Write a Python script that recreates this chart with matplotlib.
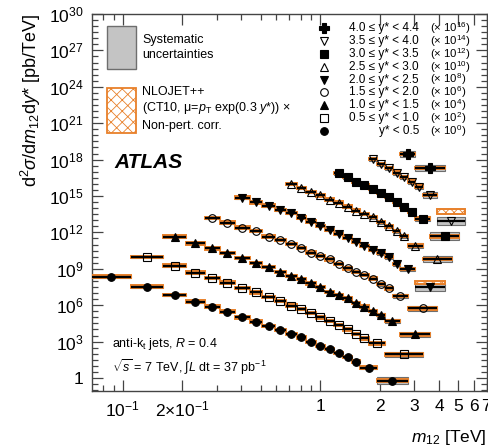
import numpy as np
import matplotlib
matplotlib.use("Agg")
import matplotlib.pyplot as plt
import matplotlib.transforms as mtransforms
from matplotlib.patches import Rectangle
from matplotlib.ticker import FixedLocator, FixedFormatter, NullFormatter

plt.rcParams['font.family'] = ['Liberation Sans', 'DejaVu Sans']
plt.rcParams['mathtext.fontset'] = 'custom'
plt.rcParams['mathtext.rm'] = 'Liberation Sans'
plt.rcParams['mathtext.it'] = 'Liberation Sans:italic'
plt.rcParams['mathtext.bf'] = 'Liberation Sans:bold'
plt.rcParams['hatch.linewidth'] = 0.6

# y* bins, lowest first; plotted values are already multiplied by the scale factor
ystar_labels = ["y* < 0.5", "0.5 ≤ y* < 1.0", "1.0 ≤ y* < 1.5", "1.5 ≤ y* < 2.0",
                "2.0 ≤ y* < 2.5", "2.5 ≤ y* < 3.0", "3.0 ≤ y* < 3.5", "3.5 ≤ y* < 4.0",
                "4.0 ≤ y* < 4.4"]
scale_exp = [0, 2, 4, 6, 8, 10, 12, 14, 16]

# m12 bin edges [TeV] for each y* bin
edges = [
    [0.07, 0.11, 0.16, 0.21, 0.26, 0.31, 0.37, 0.44, 0.51, 0.59, 0.67, 0.76, 0.85, 0.95,
     1.06, 1.18, 1.31, 1.45, 1.60, 1.94, 2.78],
    [0.11, 0.16, 0.21, 0.26, 0.31, 0.37, 0.44, 0.51, 0.59, 0.67, 0.76, 0.85, 0.95, 1.06,
     1.18, 1.31, 1.45, 1.60, 1.76, 2.12, 3.31],
    [0.16, 0.21, 0.26, 0.31, 0.37, 0.44, 0.51, 0.59, 0.67, 0.76, 0.85, 0.95, 1.06, 1.18,
     1.31, 1.45, 1.60, 1.76, 1.94, 2.12, 2.55, 3.61],
    [0.26, 0.31, 0.37, 0.44, 0.51, 0.59, 0.67, 0.76, 0.85, 0.95, 1.06, 1.18, 1.31, 1.45,
     1.60, 1.76, 1.94, 2.12, 2.33, 2.78, 3.93],
    [0.37, 0.44, 0.51, 0.59, 0.67, 0.76, 0.85, 0.95, 1.06, 1.18, 1.31, 1.45, 1.60, 1.76,
     1.94, 2.12, 2.33, 2.55, 3.04, 4.27],
    [0.67, 0.76, 0.85, 0.95, 1.06, 1.18, 1.31, 1.45, 1.60, 1.76, 1.94, 2.12, 2.33, 2.55,
     2.78, 3.31, 4.64],
    [1.18, 1.31, 1.45, 1.60, 1.76, 1.94, 2.12, 2.33, 2.55, 2.78, 3.04, 3.61, 5.04],
    [1.76, 1.94, 2.12, 2.33, 2.55, 2.78, 3.04, 3.31, 3.93, 5.44],
    [2.55, 3.04, 4.27],
]

# log10 of (d2sigma/dm12dy* x scale) [pb/TeV]
log_xs = [
    [8.35, 7.53, 6.84, 6.29, 5.88, 5.47, 5.00, 4.64, 4.31, 3.96, 3.63, 3.35, 2.99, 2.64,
     2.37, 2.04, 1.71, 1.35, 0.85, -0.22],
    [9.95, 9.26, 8.68, 8.22, 7.86, 7.43, 7.05, 6.70, 6.33, 5.96, 5.69, 5.38, 5.00, 4.70,
     4.37, 4.01, 3.63, 3.27, 2.86, 1.95],
    [11.65, 11.10, 10.69, 10.28, 9.87, 9.50, 9.13, 8.76, 8.41, 8.14, 7.80, 7.48, 7.11,
     6.84, 6.57, 6.16, 5.88, 5.52, 5.19, 4.72, 3.60],
    [13.17, 12.80, 12.39, 12.11, 11.65, 11.38, 11.05, 10.72, 10.33, 10.06, 9.78, 9.40,
     9.04, 8.76, 8.49, 8.20, 7.75, 7.39, 6.76, 5.74],
    [14.86, 14.48, 14.20, 13.85, 13.58, 13.22, 12.89, 12.55, 12.20, 11.87, 11.57, 11.24,
     10.88, 10.55, 10.28, 9.95, 9.40, 9.00, 7.48],
    [16.00, 15.64, 15.33, 15.05, 14.70, 14.45, 14.12, 13.79, 13.52, 13.25, 12.85, 12.50,
     12.13, 11.72, 10.92, 9.80],
    [16.88, 16.55, 16.18, 15.91, 15.56, 15.23, 14.90, 14.50, 14.12, 13.71, 13.13, 11.68],
    [18.07, 17.64, 17.29, 16.93, 16.55, 16.18, 15.77, 15.09, 12.97],
    [18.45, 17.29],
]

# systematic uncertainty, half height in decades
sys_dec = [
    [0.10, 0.08, 0.07, 0.07, 0.06, 0.06, 0.06, 0.06, 0.06, 0.06, 0.07, 0.07, 0.07, 0.08,
     0.08, 0.09, 0.10, 0.11, 0.14, 0.27],
    [0.10, 0.08, 0.07, 0.07, 0.06, 0.06, 0.06, 0.06, 0.06, 0.06, 0.07, 0.07, 0.07, 0.08,
     0.08, 0.09, 0.10, 0.11, 0.14, 0.20],
    [0.09, 0.08, 0.07, 0.07, 0.06, 0.06, 0.06, 0.06, 0.06, 0.07, 0.07, 0.07, 0.08, 0.08,
     0.09, 0.10, 0.11, 0.12, 0.13, 0.15, 0.20],
    [0.09, 0.08, 0.07, 0.07, 0.06, 0.06, 0.06, 0.07, 0.07, 0.07, 0.08, 0.08, 0.09, 0.10,
     0.11, 0.12, 0.13, 0.15, 0.17, 0.19],
    [0.09, 0.08, 0.07, 0.07, 0.07, 0.07, 0.07, 0.08, 0.08, 0.08, 0.09, 0.10, 0.11, 0.12,
     0.13, 0.15, 0.16, 0.18, 0.27],
    [0.09, 0.08, 0.08, 0.08, 0.08, 0.09, 0.09, 0.10, 0.11, 0.12, 0.13, 0.14, 0.15, 0.17,
     0.20, 0.27],
    [0.12, 0.11, 0.11, 0.12, 0.12, 0.13, 0.14, 0.15, 0.17, 0.19, 0.22, 0.33],
    [0.15, 0.15, 0.16, 0.17, 0.18, 0.20, 0.22, 0.25, 0.34],
    [0.22, 0.26],
]

# theory (NLOJET++ x non-pert. corr.): same as data except these (series, bin, log offset, half height)
theory_half = 0.10
theory_diff = [(4, 18, 0.38, 0.11), (7, 8, 0.74, 0.20)]

markers = ['o', 's', '^', 'o', 'v', '^', 's', 'v', 'P']
filled = [True, False, True, False, True, False, True, False, True]

ORANGE = '#e8802a'
GRAY_FACE = '#c4c4c4'
GRAY_EDGE = '#6e6e6e'

fig = plt.figure(figsize=(4.89, 4.46), dpi=100)
ax = fig.add_axes([92 / 489, 1 - 391 / 446, 395 / 489, 377 / 446])
ax.set_xscale('log')
ax.set_yscale('log')
ax.set_xlim(0.07, 7.0)
ax.set_ylim(0.085, 1e30)

for i in range(len(edges)):
    e = np.array(edges[i])
    lo, hi = e[:-1], e[1:]
    cen = np.sqrt(lo * hi)
    lg = np.array(log_xs[i])
    val = 10.0 ** lg
    th = {k: (off, h) for (s, k, off, h) in theory_diff if s == i}
    for k in range(len(val)):
        s = sys_dec[i][k]
        ax.add_patch(Rectangle((lo[k], 10 ** (lg[k] - s)), hi[k] - lo[k],
                               10 ** (lg[k] + s) - 10 ** (lg[k] - s),
                               fc=GRAY_FACE, ec=GRAY_EDGE, lw=0.8, zorder=2))
        off, h = th.get(k, (0.0, theory_half))
        t = lg[k] + off
        ax.add_patch(Rectangle((lo[k], 10 ** (t - h)), hi[k] - lo[k],
                               10 ** (t + h) - 10 ** (t - h),
                               fc='none', ec=ORANGE, hatch='xxxx', lw=1.4, zorder=3))
    ax.errorbar(cen, val, xerr=[cen - lo, hi - cen], fmt=markers[i], color='k',
                ms=5.5 if markers[i] != 'P' else 7, mfc='k' if filled[i] else 'none',
                mec='k', mew=0.8, elinewidth=1.6, capsize=0, zorder=5)

# axes ticks
ax.yaxis.set_major_locator(FixedLocator([10.0 ** k for k in range(0, 31, 3)]))
ax.yaxis.set_major_formatter(FixedFormatter(['1'] + [r'$10^{%d}$' % k for k in range(3, 31, 3)]))
ax.yaxis.set_minor_locator(FixedLocator([10.0 ** (k / 2) for k in range(-2, 61) if k % 6 != 0]))
ax.yaxis.set_minor_formatter(NullFormatter())
ax.xaxis.set_major_locator(FixedLocator([0.1, 1.0, 0.2, 2, 3, 4, 5, 6, 7]))
ax.xaxis.set_major_formatter(FixedFormatter([r'$10^{-1}$', '1', r'$2{\times}10^{-1}$',
                                             '2', '3', '4', '5', '6', '7']))
ax.xaxis.set_minor_locator(FixedLocator([0.08, 0.09, 0.3, 0.4, 0.5, 0.6, 0.7, 0.8, 0.9]))
ax.xaxis.set_minor_formatter(NullFormatter())
ax.tick_params(which='both', direction='in', top=True, right=True, width=0.9, color='#444444')
ax.tick_params(which='major', length=8, labelsize=12.5, pad=6)
ax.tick_params(which='minor', length=4.5)
for sp in ax.spines.values():
    sp.set_color('#444444')
    sp.set_linewidth(1.0)
# nudge the last x label a little left so it stays inside the picture
fig.canvas.draw()
for lab in ax.get_xticklabels():
    if lab.get_text() == '7':
        lab.set_transform(lab.get_transform() +
                          mtransforms.ScaledTranslation(-1.5 / 100, 0, fig.dpi_scale_trans))

ax.set_xlabel(r'$m_{12}$ [TeV]', fontsize=12.5, loc='right', labelpad=6)
ax.set_ylabel(r'd$^2\sigma$/d$m_{12}$d$y$* [pb/TeV]', fontsize=13, loc='top', labelpad=4)

# uncertainty legend (top left)
tr = ax.transAxes
ax.add_patch(Rectangle((0.038, 0.853), 0.073, 0.116, transform=tr, fc=GRAY_FACE,
                       ec=GRAY_EDGE, lw=1.0, clip_on=False, zorder=6))
ax.add_patch(Rectangle((0.038, 0.684), 0.073, 0.120, transform=tr, fc='white',
                       ec=ORANGE, hatch='xxx', lw=1.3, clip_on=False, zorder=6))
ax.text(0.127, 0.931, 'Systematic', transform=tr, fontsize=9, va='center')
ax.text(0.127, 0.891, 'uncertainties', transform=tr, fontsize=9, va='center')
ax.text(0.127, 0.793, 'NLOJET++', transform=tr, fontsize=9, va='center')
ax.text(0.127, 0.751, r'(CT10, μ=$p_{\mathrm{T}}$ exp(0.3 $y$*)) ×', transform=tr,
        fontsize=9, va='center')
ax.text(0.127, 0.703, 'Non-pert. corr.', transform=tr, fontsize=9, va='center')

ax.text(0.058, 0.607, 'ATLAS', transform=tr, fontsize=15, fontweight='bold',
        fontstyle='italic', va='center')

# y* legend (top right), highest y* first
for row, i in enumerate(range(len(edges) - 1, -1, -1)):
    yy = 0.963 - 0.0342 * row
    ax.plot([0.587], [yy], marker=markers[i], color='k', ms=5.5 if markers[i] != 'P' else 7,
            mfc='k' if filled[i] else 'none', mew=0.8, transform=tr, clip_on=False, zorder=7)
    ax.text(0.828, yy, ystar_labels[i], transform=tr, fontsize=8.5, ha='right', va='center')
    ax.text(0.856, yy, r'(× 10$^{%d}$)' % scale_exp[i], transform=tr, fontsize=8.2,
            ha='left', va='center')

ax.text(0.051, 0.125, r'anti-k$_{\mathrm{t}}$ jets, $R$ = 0.4', transform=tr, fontsize=9,
        va='center')
ax.text(0.051, 0.064, r'$\sqrt{s}$ = 7 TeV, $\int L$ dt = 37 pb$^{-1}$', transform=tr,
        fontsize=9, va='center')

fig.savefig('out.png', dpi=100)
